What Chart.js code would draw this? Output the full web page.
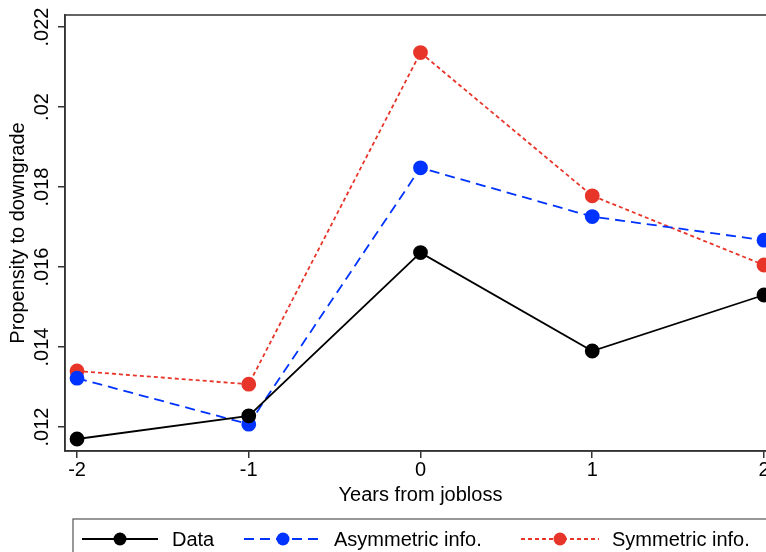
<!DOCTYPE html>
<html>
<head>
<meta charset="utf-8">
<script src="https://cdn.jsdelivr.net/npm/chart.js@4.4.0/dist/chart.umd.min.js"></script>
<style>
  html, body { margin: 0; padding: 0; background: #fff; }
  #wrap { width: 766px; height: 552px; overflow: hidden; position: relative; }
  canvas { display: block; }
</style>
</head>
<body>
<div id="wrap"><canvas id="chart" width="790" height="575"></canvas></div>
<script>
// years from jobloss
const years = [-2, -1, 0, 1, 2];
const dataSeries = [0.0117, 0.01228, 0.01636, 0.0139, 0.0153];
const asymSeries = [0.01322, 0.01207, 0.01848, 0.01726, 0.01667];
const symSeries = [0.0134, 0.01307, 0.02136, 0.01778, 0.01605];
const yTicks = [0.012, 0.014, 0.016, 0.018, 0.02, 0.022];
const xTicks = [-2, -1, 0, 1, 2];

const font = 'Liberation Sans, Arial, Helvetica, sans-serif';
const frameColor = '#333333';

const toPts = (arr) => arr.map((v, i) => ({ x: years[i], y: v }));

// box round plot area + Stata style legend
const framePlugin = {
  id: 'frame',
  afterDraw(chart) {
    const ctx = chart.ctx;
    const a = chart.chartArea;
    ctx.save();
    ctx.strokeStyle = frameColor;
    ctx.lineWidth = 1.5;
    ctx.strokeRect(a.left, a.top, a.right - a.left, a.bottom - a.top);

    // legend
    const lx = 73, ly = 519;
    ctx.strokeStyle = '#555';
    ctx.lineWidth = 1.2;
    ctx.strokeRect(lx, ly, 740, 60);
    const items = [
      { x: 82, w: 76, tx: 172 },
      { x: 244, w: 78, tx: 334 },
      { x: 521, w: 78, tx: 612 }
    ];
    const cy = 539;
    chart.data.datasets.forEach((ds, i) => {
      const it = items[i];
      ctx.strokeStyle = ds.borderColor;
      ctx.lineWidth = ds.borderWidth;
      ctx.setLineDash(ds.borderDash || []);
      ctx.beginPath();
      ctx.moveTo(it.x, cy);
      ctx.lineTo(it.x + it.w, cy);
      ctx.stroke();
      ctx.setLineDash([]);
      ctx.fillStyle = ds.pointBackgroundColor;
      ctx.beginPath();
      ctx.arc(it.x + it.w / 2, cy, ds.pointRadius, 0, Math.PI * 2);
      ctx.fill();
      ctx.fillStyle = '#000';
      ctx.font = '20px ' + font;
      ctx.textBaseline = 'middle';
      ctx.textAlign = 'left';
      ctx.fillText(ds.label, it.tx, cy + 1);
    });
    ctx.restore();
  }
};

new Chart(document.getElementById('chart'), {
  type: 'line',
  data: {
    datasets: [
      {
        label: 'Data',
        data: toPts(dataSeries),
        borderColor: '#000000',
        pointBackgroundColor: '#000000',
        pointBorderColor: '#000000',
        borderWidth: 1.8,
        pointRadius: 6.5,
        borderDash: []
      },
      {
        label: 'Asymmetric info.',
        data: toPts(asymSeries),
        borderColor: '#0033ff',
        pointBackgroundColor: '#0033ff',
        pointBorderColor: '#0033ff',
        borderWidth: 1.8,
        pointRadius: 6.5,
        borderDash: [10, 6]
      },
      {
        label: 'Symmetric info.',
        data: toPts(symSeries),
        borderColor: '#e8352a',
        pointBackgroundColor: '#e8352a',
        pointBorderColor: '#e8352a',
        borderWidth: 1.8,
        pointRadius: 6.5,
        borderDash: [4, 3]
      }
    ]
  },
  options: {
    responsive: false,
    animation: false,
    layout: { padding: { left: 0, top: 15, right: 14, bottom: 64 } },
    plugins: { legend: { display: false }, tooltip: { enabled: false } },
    scales: {
      x: {
        type: 'linear',
        min: -2.07,
        max: 2.07,
        afterBuildTicks(s) { s.ticks = xTicks.map(v => ({ value: v })); },
        afterFit(s) { s.height = 60; },
        grid: { drawOnChartArea: false, color: frameColor, tickLength: 7, lineWidth: 1.5 },
        border: { color: frameColor, width: 1.5 },
        ticks: {
          color: '#000',
          font: { family: font, size: 20 },
          padding: 0,
          maxRotation: 0,
          callback: (v) => String(v)
        },
        title: {
          display: true,
          text: 'Years from jobloss',
          color: '#000',
          font: { family: font, size: 20 },
          padding: { top: 0, bottom: 4 }
        }
      },
      y: {
        min: 0.0114,
        max: 0.0223,
        afterBuildTicks(s) { s.ticks = yTicks.map(v => ({ value: v })); },
        afterFit(s) { s.width = 65; },
        grid: { drawOnChartArea: false, color: frameColor, tickLength: 7, lineWidth: 1.5 },
        border: { color: frameColor, width: 1.5 },
        ticks: {
          color: '#000',
          font: { family: font, size: 20 },
          minRotation: 90,
          maxRotation: 90,
          crossAlign: 'center',
          padding: -4,
          callback: (v) => String(Math.round(v * 1000) / 1000).replace(/^0\./, '.')
        },
        title: {
          display: true,
          text: 'Propensity to downgrade',
          color: '#000',
          font: { family: font, size: 20 },
          padding: { top: 6, bottom: 0 }
        }
      }
    }
  },
  plugins: [framePlugin]
});
</script>
</body>
</html>
